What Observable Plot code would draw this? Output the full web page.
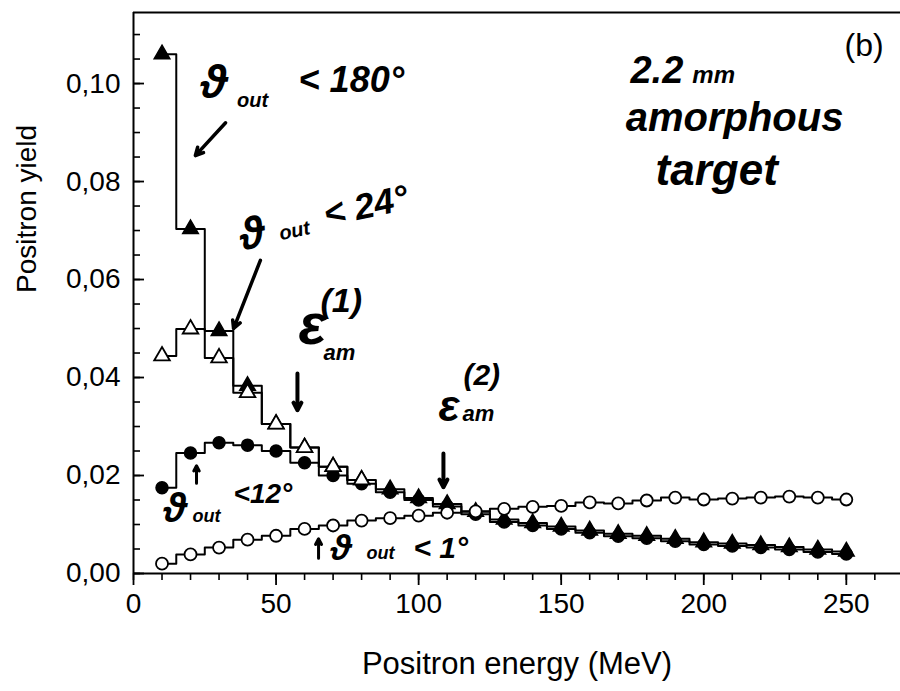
<!DOCTYPE html>
<html>
<head>
<meta charset="utf-8">
<script src="https://cdn.jsdelivr.net/npm/d3@7"></script>
<script src="https://cdn.jsdelivr.net/npm/@observablehq/plot@0.6"></script>
<style>
  html, body { margin: 0; padding: 0; background: #fff; }
</style>
</head>
<body>
<div id="chart"></div>
<script>
// ---- data ----
const energy = [10, 20, 30, 40, 50, 60, 70, 80, 90, 100, 110, 120, 130, 140, 150, 160, 170, 180, 190, 200, 210, 220, 230, 240, 250];
// theta_out < 180 deg (filled triangles)
const yield180 = [0.1060, 0.0703, 0.0495, 0.0383, 0.0305, 0.0257, 0.0218, 0.0191, 0.0172, 0.0154, 0.0142, 0.0126, 0.0110, 0.0103, 0.0096, 0.0088, 0.0081, 0.0077, 0.0071, 0.0064, 0.0061, 0.0058, 0.0054, 0.0049, 0.0045];
// theta_out < 24 deg (open triangles), visible up to 80 MeV, hidden under the 180 deg series beyond
const yield24 = [0.0444, 0.0499, 0.0440, 0.0369, 0.0305, 0.0257, 0.0218, 0.0191];
// theta_out < 12 deg (filled circles)
const yield12 = [0.0175, 0.0246, 0.0267, 0.0262, 0.0250, 0.0226, 0.0200, 0.0183, 0.0166, 0.0150, 0.0137, 0.0121, 0.0105, 0.0098, 0.0091, 0.0083, 0.0076, 0.0072, 0.0066, 0.0059, 0.0056, 0.0053, 0.0049, 0.0044, 0.0040];
// theta_out < 1 deg (open circles)
const yield1 = [0.0020, 0.0039, 0.0053, 0.0069, 0.0077, 0.0091, 0.0098, 0.0108, 0.0113, 0.0118, 0.0124, 0.0127, 0.0132, 0.0136, 0.0138, 0.0145, 0.0143, 0.0149, 0.0155, 0.0151, 0.0153, 0.0155, 0.0157, 0.0155, 0.0151];

const xDomain = [0, 269];
const yDomain = [0, 0.1145];
const xTicks = [0, 50, 100, 150, 200, 250];
const xMinorTicks = d3.range(0, 270, 10);
const yTicks = [0, 0.02, 0.04, 0.06, 0.08, 0.10];
const yMinorTicks = d3.range(0, 0.1146, 0.005);

const xLabel = "Positron energy (MeV)";
const yLabel = "Positron yield";

// handwritten annotations (positions in data units)
const notes = [
  {text: "ϑ", x: 23.5, y: 0.0971, size: 46, rotate: 0},
  {text: "out", x: 36.3, y: 0.0953, size: 20, rotate: 0},
  {text: "< 180°", x: 57.9, y: 0.0982, size: 36, rotate: 0},
  {text: "ϑ", x: 38.2, y: 0.0659, size: 44, rotate: -12},
  {text: "out", x: 51.6, y: 0.0680, size: 20, rotate: -12},
  {text: "< 24°", x: 67.7, y: 0.0708, size: 36, rotate: -12},
  {text: "ε", x: 57.9, y: 0.0469, size: 58, rotate: 0},
  {text: "am", x: 66.6, y: 0.0435, size: 22, rotate: 0},
  {text: "(1)", x: 65.6, y: 0.0533, size: 34, rotate: 0},
  {text: "ε", x: 107.0, y: 0.0312, size: 44, rotate: 0},
  {text: "am", x: 115.4, y: 0.0312, size: 22, rotate: 0},
  {text: "(2)", x: 115.7, y: 0.0384, size: 30, rotate: 0},
  {text: "ϑ", x: 10.5, y: 0.0106, size: 40, rotate: 0},
  {text: "out", x: 20.7, y: 0.0106, size: 18, rotate: 0},
  {text: "<12°", x: 35.1, y: 0.0143, size: 28, rotate: 0},
  {text: "ϑ", x: 69.1, y: 0.0027, size: 36, rotate: 0},
  {text: "out", x: 81.7, y: 0.0029, size: 18, rotate: 0},
  {text: "< 1°", x: 98.2, y: 0.0031, size: 30, rotate: 0},
  {text: "2.2", x: 174.3, y: 0.1002, size: 38, rotate: 0},
  {text: "mm", x: 196.0, y: 0.1002, size: 24, rotate: 0},
  {text: "amorphous", x: 172.6, y: 0.0904, size: 40, rotate: 0},
  {text: "target", x: 183.1, y: 0.0792, size: 44, rotate: 0}
];
const arrows = [
  {x1: 32.3, y1: 0.0920, x2: 21.7, y2: 0.0853, w: 3.5},
  {x1: 44.5, y1: 0.0639, x2: 35.1, y2: 0.0500, w: 3.5},
  {x1: 57.5, y1: 0.0408, x2: 57.5, y2: 0.0333, w: 4},
  {x1: 108.7, y1: 0.0245, x2: 108.7, y2: 0.0176, w: 4},
  {x1: 22.1, y1: 0.0184, x2: 22.1, y2: 0.0220, w: 3},
  {x1: 64.9, y1: 0.0031, x2: 64.9, y2: 0.0071, w: 3}
];
const panelLabel = [{text: "(b)", x: 263.1, y: 0.1057}];

// ---- build tables ----
const rows180 = energy.map((e, i) => ({e, v: yield180[i]}));
const rows24 = yield24.map((v, i) => ({e: energy[i], v}));
const rows12 = energy.map((e, i) => ({e, v: yield12[i]}));
const rows1 = energy.map((e, i) => ({e, v: yield1[i]}));

const fmtY = d => d.toFixed(2).replace(".", ",");
const lineOpts = {x: "e", y: "v", curve: "step", stroke: "black", strokeWidth: 2};

const chart = Plot.plot({
  width: 900,
  height: 691,
  marginLeft: 133,
  marginRight: 0,
  marginTop: 12,
  marginBottom: 118,
  style: {fontFamily: "'Liberation Sans', Arial, sans-serif", background: "white", color: "black"},
  x: {domain: xDomain},
  y: {domain: yDomain},
  marks: [
    // frame lines
    Plot.ruleX([xDomain[0]], {stroke: "black", strokeWidth: 2}),
    Plot.ruleY([yDomain[0]], {stroke: "black", strokeWidth: 2}),
    Plot.ruleY([yDomain[1]], {stroke: "black", strokeWidth: 2}),
    // axes
    Plot.axisX(xMinorTicks, {tickSize: 7, strokeWidth: 1.6, tickFormat: () => ""}),
    Plot.axisX(xTicks, {tickSize: 12, strokeWidth: 1.8, tickPadding: 8, fontSize: 28, tickFormat: d => String(d), label: null}),
    Plot.axisY(yMinorTicks, {tickSize: -7, strokeWidth: 1.6, tickFormat: () => ""}),
    Plot.axisY(yTicks, {tickSize: -11, strokeWidth: 1.8, tickFormat: () => ""}),
    Plot.axisY(yTicks, {tickSize: 0, tickPadding: 13, fontSize: 28, tickFormat: fmtY, label: null}),
    Plot.text([yLabel], {frameAnchor: "left", dx: -106, rotate: -90, fontSize: 28, fill: "black"}),
    Plot.text([xLabel], {frameAnchor: "bottom", dy: 100, fontSize: 31, fill: "black"}),
    // step lines
    Plot.line(rows12, lineOpts),
    Plot.line(rows180, lineOpts),
    Plot.line(rows24, lineOpts),
    Plot.line(rows1, lineOpts),
    // markers
    Plot.dot(rows12, {x: "e", y: "v", r: 6, fill: "black", stroke: "black", strokeWidth: 1.5}),
    Plot.dot(rows180, {x: "e", y: "v", symbol: "triangle", r: 5.8, fill: "black", stroke: "black", strokeWidth: 1.5}),
    Plot.dot(rows24, {x: "e", y: "v", symbol: "triangle", r: 5.8, fill: "white", stroke: "black", strokeWidth: 1.8}),
    Plot.dot(rows1, {x: "e", y: "v", r: 6, fill: "white", stroke: "black", strokeWidth: 1.8}),
    // annotations
    Plot.text(notes, {x: "x", y: "y", text: "text", fontSize: "size", rotate: "rotate", textAnchor: "start", lineAnchor: "bottom",
      fontStyle: "italic", fontWeight: "bold", fill: "black", fontFamily: "'Liberation Sans', 'DejaVu Sans', sans-serif"}),
    Plot.arrow(arrows, {x1: "x1", y1: "y1", x2: "x2", y2: "y2", stroke: "black", strokeWidth: "w", headLength: 13, headAngle: 55}),
    Plot.text(panelLabel, {x: "x", y: "y", text: "text", fontSize: 32, textAnchor: "end", lineAnchor: "bottom", fill: "black"})
  ]
});
document.getElementById("chart").appendChild(chart);
</script>
</body>
</html>
